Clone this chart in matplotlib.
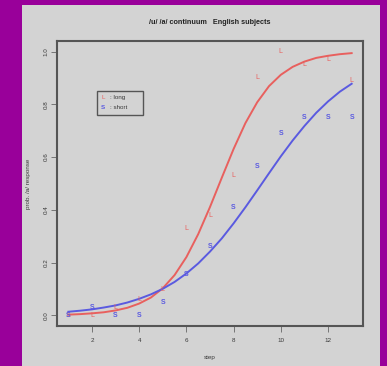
import numpy as np
import matplotlib
matplotlib.use("Agg")
import matplotlib.pyplot as plt
from matplotlib.patches import Rectangle

plt.rcParams['font.family'] = ['Liberation Sans', 'DejaVu Sans']

# observed proportions of /a/ responses per step
steps = [1, 2, 3, 4, 5, 6, 7, 8, 9, 10, 11, 12, 13]
long_prop = [0.0, 0.0, 0.03, 0.06, 0.10, 0.33, 0.38, 0.53, 0.90, 1.0, 0.95, 0.97, 0.89]
short_prop = [0.0, 0.03, 0.0, 0.0, 0.05, 0.155, 0.26, 0.41, 0.565, 0.69, 0.75, 0.75, 0.75]

# fitted curves at half steps
curve_x = [1, 1.5, 2, 2.5, 3, 3.5, 4, 4.5, 5, 5.5, 6, 6.5, 7, 7.5, 8, 8.5,
           9, 9.5, 10, 10.5, 11, 11.5, 12, 12.5, 13]
long_curve = [0.003, 0.005, 0.008, 0.012, 0.019, 0.029, 0.045, 0.068, 0.103,
              0.153, 0.221, 0.308, 0.411, 0.522, 0.631, 0.729, 0.808, 0.869,
              0.912, 0.942, 0.962, 0.976, 0.984, 0.990, 0.994]
short_curve = [0.014, 0.018, 0.023, 0.030, 0.038, 0.049, 0.063, 0.080, 0.101,
               0.127, 0.159, 0.197, 0.242, 0.292, 0.349, 0.410, 0.474, 0.539,
               0.603, 0.663, 0.718, 0.768, 0.811, 0.848, 0.878]

red = '#e8605e'
blue = '#5a5ae0'
dark = '#3a3a3a'

fig = plt.figure(figsize=(3.87, 3.66), dpi=100)
fig.patch.set_facecolor('#99009a')
fig.patches.append(Rectangle((22 / 387, 0), 358 / 387, 361 / 366,
                             transform=fig.transFigure, facecolor='#d3d3d3',
                             edgecolor='none', zorder=-10))

ax = fig.add_axes([57 / 387, 40 / 366, 306 / 387, 285 / 366])
ax.set_facecolor('#d3d3d3')

ax.plot(curve_x, long_curve, color=red, lw=1.4)
ax.plot(curve_x, short_curve, color=blue, lw=1.4)

for x, y in zip(steps, long_prop):
    ax.text(x, y, 'L', color=red, fontsize=5, ha='center', va='center')
for x, y in zip(steps, short_prop):
    ax.text(x, y, 'S', color=blue, fontsize=5, ha='center', va='center', fontweight='bold')

ax.set_xlim(0.52, 13.48)
ax.set_ylim(-0.04, 1.04)
ax.set_xticks([2, 4, 6, 8, 10, 12])
ax.set_yticks([0.0, 0.2, 0.4, 0.6, 0.8, 1.0])
ax.set_yticklabels(['0.0', '0.2', '0.4', '0.6', '0.8', '1.0'], rotation=90, va='center')
ax.tick_params(direction='out', length=4, width=0.6, colors='#666666',
               labelsize=4.5, labelcolor=dark)
ax.tick_params(axis='x', pad=5)
ax.tick_params(axis='y', pad=2)
for s in ax.spines.values():
    s.set_color('#555555')
    s.set_linewidth(1.5)

ax.set_xlabel('step', fontsize=4.5, color=dark, labelpad=8)
ax.set_ylabel('prob. /a/ response', fontsize=4.5, color=dark, labelpad=9)
fig.text(210 / 387, 1 - 23 / 366, '/u/ /a/ continuum   English subjects',
         fontsize=5.2, color='#222222', ha='center', va='center', fontweight='bold')

# legend box
ax.add_patch(Rectangle((2.21, 0.758), 1.96, 0.094, facecolor='none',
                       edgecolor='#555555', lw=1.0))
ax.text(2.47, 0.826, 'L', color=red, fontsize=4.5, ha='center', va='center')
ax.text(2.75, 0.826, ': long', color=dark, fontsize=4.5, ha='left', va='center')
ax.text(2.47, 0.788, 'S', color=blue, fontsize=4.5, ha='center', va='center', fontweight='bold')
ax.text(2.75, 0.788, ': short', color=dark, fontsize=4.5, ha='left', va='center')

fig.savefig('out.png', dpi=100, facecolor=fig.get_facecolor())
